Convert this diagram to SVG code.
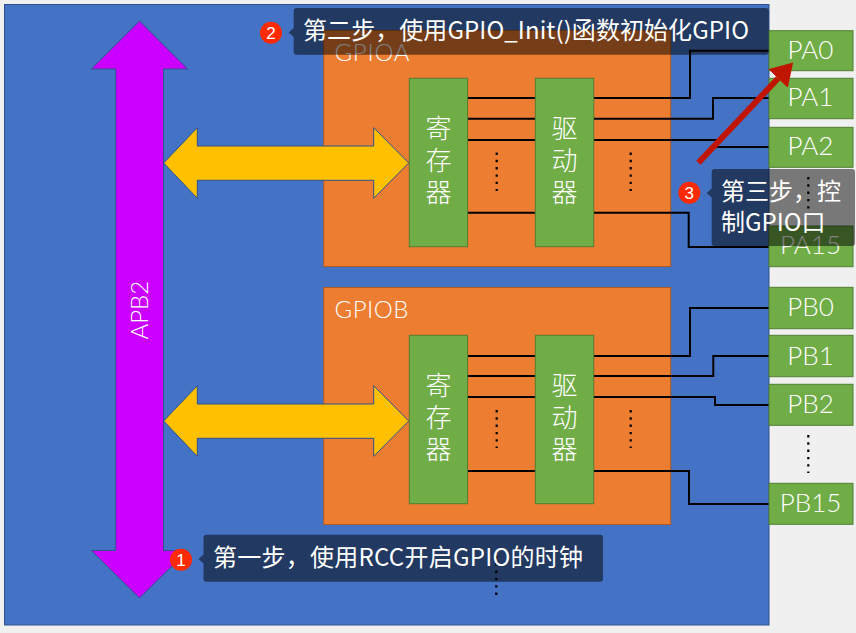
<svg xmlns="http://www.w3.org/2000/svg" width="856" height="633" viewBox="0 0 856 633">
<style>
.blk{fill:#ed7d31;stroke:#ae5a21;stroke-width:1}
.grn{fill:#70ad47;stroke:#507e32;stroke-width:1}
.w{fill:#fff;stroke:none}
.lat{font-family:"Lato","Liberation Sans",sans-serif;font-size:26px;text-anchor:middle;font-weight:300}
.lab{font-family:"Lato","Liberation Sans",sans-serif;font-size:24px;font-weight:300}
.cjk{font-family:"Noto Sans CJK SC",sans-serif;font-size:26px;text-anchor:middle;font-weight:300}
.tip{fill:#000;fill-opacity:.5;stroke:none}
.tt{font-family:"Noto Sans CJK SC",sans-serif;font-size:24px;fill:#fff}
.badge{fill:#ff2a00}
.bt{font-family:"Liberation Sans",sans-serif;font-size:17px;fill:#fff;text-anchor:middle}
.wire{fill:none;stroke:#000;stroke-width:2}
.dots{fill:none;stroke:#000;stroke-width:2.2;stroke-dasharray:2.4 4.9}
.arr{stroke:#2f528f;stroke-width:1}
</style>
<defs>
<marker id="redhead" markerUnits="userSpaceOnUse" markerWidth="24" markerHeight="28" refX="0" refY="13.5" orient="auto"><path d="M0,0L22,13.5L0,27z" fill="#c01500"/></marker>
</defs>
<rect width="856" height="633" fill="#f0f0f0"/>
<rect id="chip" x="4.5" y="4.5" width="764.5" height="620.5" fill="#4472c4" stroke="#2f528f"/>
<g id="apb2">
<path class="arr" fill="#cc00ff" d="M139.5,21L187.7,69H163.5V550.5H187.7L139.5,598L91.3,550.5H115.7V69H91.3z"/>
<text class="lab w" transform="translate(148,339.5) rotate(-90)">APB2</text>
</g>
<g id="gpioa">
<rect class="blk" x="323.7" y="30.5" width="347" height="236"/>
<text class="lab w" x="334.5" y="61" textLength="75">GPIOA</text>
</g>
<g id="gpiob">
<rect class="blk" x="323.7" y="287.5" width="347" height="237"/>
<text class="lab w" x="334.5" y="318" textLength="74">GPIOB</text>
</g>
<g id="bus-a"><path class="arr" fill="#ffc000" d="M163.7,163L197.3,127.7V146H373.7V127.7L408.7,163L373.7,198.3V180.3H197.3V198.3z"/></g>
<g id="bus-b"><path class="arr" fill="#ffc000" d="M163.7,421L197.3,385.7V404H373.7V385.7L408.7,421L373.7,456.3V438.3H197.3V456.3z"/></g>
<g id="connectors">
<path class="wire" d="M467.6,98H535.3M593.7,98H690V50.7H769"/>
<path class="wire" d="M467.6,118.7H535.3M593.7,118.7H713V98H769"/>
<path class="wire" d="M467.6,140H535.3M593.7,140H716V147H769"/>
<path class="wire" d="M467.6,212.7H535.3M593.7,212.7H688.7V247H769"/>
<path class="wire" d="M467.6,356H535.3M593.7,356H690V308H769"/>
<path class="wire" d="M467.6,376H535.3M593.7,376H713.3V356H769"/>
<path class="wire" d="M467.6,397H535.3M593.7,397H715V405H769"/>
<path class="wire" d="M467.6,471H535.3M593.7,471H689V504H769"/>
<path class="dots" d="M496.7,152.5V191M630.7,152.5V191M496.7,410V448M630.7,410V448M808.3,435V473M808.3,177V210M496.3,556V599"/>
</g>
<g id="reg-a"><rect class="grn" x="409.3" y="78.3" width="58.3" height="168.4"/><text class="cjk w"><tspan x="438.5" y="138">寄</tspan><tspan x="438.5" y="170">存</tspan><tspan x="438.5" y="202">器</tspan></text></g>
<g id="drv-a"><rect class="grn" x="535.3" y="78.3" width="58.4" height="168.4"/><text class="cjk w"><tspan x="564.5" y="138">驱</tspan><tspan x="564.5" y="170">动</tspan><tspan x="564.5" y="202">器</tspan></text></g>
<g id="reg-b"><rect class="grn" x="409.3" y="335.3" width="58.3" height="168.4"/><text class="cjk w"><tspan x="438.5" y="395">寄</tspan><tspan x="438.5" y="427">存</tspan><tspan x="438.5" y="459">器</tspan></text></g>
<g id="drv-b"><rect class="grn" x="535.3" y="335.3" width="58.4" height="168.4"/><text class="cjk w"><tspan x="564.5" y="395">驱</tspan><tspan x="564.5" y="427">动</tspan><tspan x="564.5" y="459">器</tspan></text></g>
<g id="PA0"><rect class="grn" x="769" y="30.7" width="84" height="40"/><text class="lat w" x="810.5" y="58.5">PA0</text></g>
<g id="PA1"><rect class="grn" x="769" y="78.3" width="84" height="40.4"/><text class="lat w" x="810.5" y="106">PA1</text></g>
<g id="PA2"><rect class="grn" x="769" y="127.3" width="84" height="40"/><text class="lat w" x="810.5" y="155">PA2</text></g>
<g id="PA15"><rect class="grn" x="769" y="226" width="84" height="40.7"/><text class="lat w" x="810.5" y="254">PA15</text></g>
<g id="PB0"><rect class="grn" x="769" y="287.3" width="84" height="41.4"/><text class="lat w" x="810.5" y="316">PB0</text></g>
<g id="PB1"><rect class="grn" x="769" y="335.3" width="84" height="41.4"/><text class="lat w" x="810.5" y="365">PB1</text></g>
<g id="PB2"><rect class="grn" x="769" y="384.3" width="84" height="41"/><text class="lat w" x="810.5" y="413">PB2</text></g>
<g id="PB15"><rect class="grn" x="769" y="483.3" width="84" height="41"/><text class="lat w" x="810.5" y="512">PB15</text></g>
<line id="step3-arrow" x1="698.4" y1="162.7" x2="778" y2="78.5" stroke="#c01500" stroke-width="6" marker-end="url(#redhead)"/>
<g id="step1">
<path class="tip" d="M206.5,534.7H600a3,3 0 0 1 3,3V578.7a3,3 0 0 1 -3,3H206.5a3,3 0 0 1 -3,-3V563.5L198.5,559L203.5,554.5V537.7a3,3 0 0 1 3,-3z"/>
<circle class="badge" cx="181" cy="559.7" r="11"/><text class="bt" x="181" y="565.7">1</text>
<text class="tt" x="213" y="566" textLength="370">第一步，使用RCC开启GPIO的时钟</text>
</g>
<g id="step2">
<path class="tip" d="M296.7,8H765.7a3,3 0 0 1 3,3V51.7a3,3 0 0 1 -3,3H296.7a3,3 0 0 1 -3,-3V37L288.7,32.5L293.7,28V11a3,3 0 0 1 3,-3z"/>
<circle class="badge" cx="271" cy="32.7" r="11"/><text class="bt" x="271" y="38.7">2</text>
<text class="tt" x="303" y="39" textLength="446">第二步，使用GPIO_Init()函数初始化GPIO</text>
</g>
<g id="step3">
<path class="tip" d="M714.7,169H852a3,3 0 0 1 3,3V243a3,3 0 0 1 -3,3H714.7a3,3 0 0 1 -3,-3V197.5L706.7,193L711.7,188.5V172a3,3 0 0 1 3,-3z"/>
<circle class="badge" cx="689.3" cy="192.7" r="11"/><text class="bt" x="689.3" y="198.7">3</text>
<text class="tt" x="721" y="200">第三步，控</text>
<text class="tt" x="721" y="231">制GPIO口</text>
</g>
</svg>
